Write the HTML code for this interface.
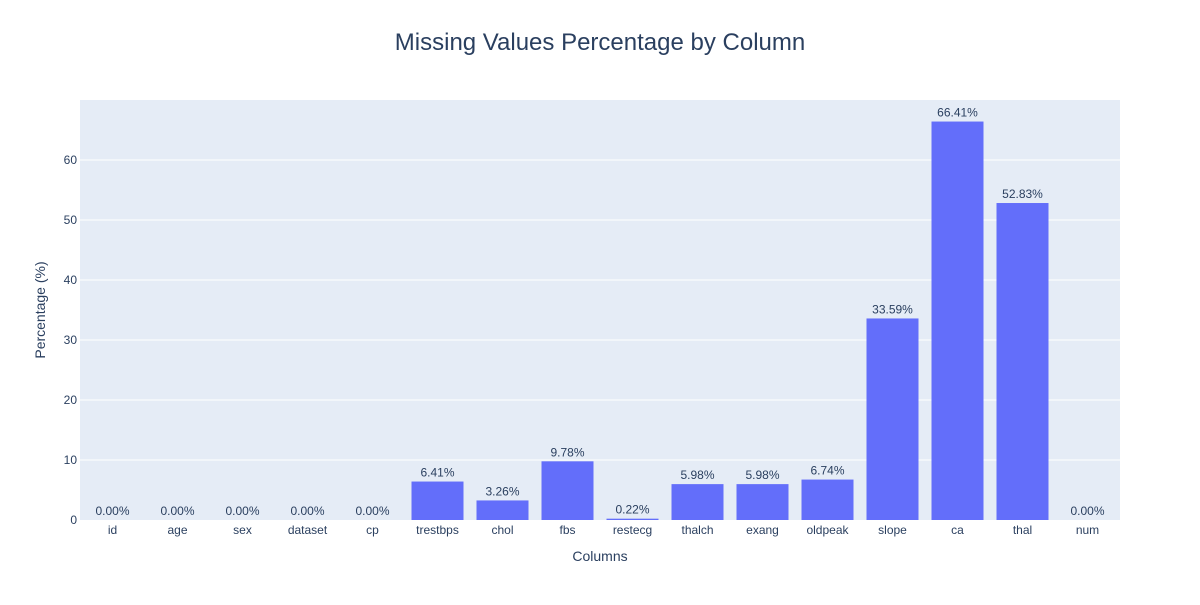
<!DOCTYPE html>
<html><head><meta charset="utf-8"><style>
body{margin:0;background:#fff;font-family:"Liberation Sans",Arial,sans-serif;}
svg text{font-family:"Liberation Sans",Arial,sans-serif;}
</style></head><body>
<svg id="chart" width="1200" height="600" xmlns="http://www.w3.org/2000/svg">
<rect width="1200" height="600" fill="#fff"/>
<text x="600" y="50" text-anchor="middle" font-size="24" fill="#2a3f5f">Missing Values Percentage by Column</text>
<rect x="80" y="100" width="1040" height="420" fill="#e5ecf6"/>
<g id="grid"></g>
<g id="bars"></g>
<g id="labels"></g>
<text x="600" y="561" text-anchor="middle" font-size="14" fill="#2a3f5f">Columns</text>
<text transform="translate(45,310) rotate(-90)" text-anchor="middle" font-size="14" fill="#2a3f5f">Percentage (%)</text>
</svg>
<script>
const categories=["id","age","sex","dataset","cp","trestbps","chol","fbs","restecg","thalch","exang","oldpeak","slope","ca","thal","num"];
const values=[0,0,0,0,0,6.41,3.26,9.78,0.22,5.98,5.98,6.74,33.59,66.41,52.83,0];
const yTicks=[0,10,20,30,40,50,60];
const NS="http://www.w3.org/2000/svg";
const x0=80,x1=1120,yTop=100,yBot=520,yMax=70;
const band=(x1-x0)/categories.length;
const xc=i=>x0+band*(i+0.5);
const y=v=>yBot-(v/yMax)*(yBot-yTop);
function mk(tag,attrs,parent){const e=document.createElementNS(NS,tag);for(const k in attrs)e.setAttribute(k,attrs[k]);document.getElementById(parent).appendChild(e);return e;}
yTicks.forEach(t=>{
 if(t>0){const l=mk('line',{x1:x0,x2:x1,y1:y(t),y2:y(t),stroke:'#fff','stroke-width':1},'grid');
 
 }
 const tx=mk('text',{x:x0-3,y:y(t)+4,'text-anchor':'end','font-size':12,fill:'#2a3f5f'},'grid');
 tx.textContent=t;
 
 
});
categories.forEach((c,i)=>{
 const w=band*0.8,v=values[i];
 const r=mk('rect',{x:xc(i)-w/2,y:y(v),width:w,height:Math.max(yBot-y(v),0),fill:'#636efa'},'bars');
 
 
 const lb=mk('text',{x:xc(i),y:y(v)-5,'text-anchor':'middle','font-size':12,fill:'#2a3f5f'},'labels');
 lb.textContent=v.toFixed(2)+'%';
 
 
 const xt=mk('text',{x:xc(i),y:yBot+14,'text-anchor':'middle','font-size':12,fill:'#2a3f5f'},'labels');
 xt.textContent=c;
 
 
});
</script>
</body></html>
